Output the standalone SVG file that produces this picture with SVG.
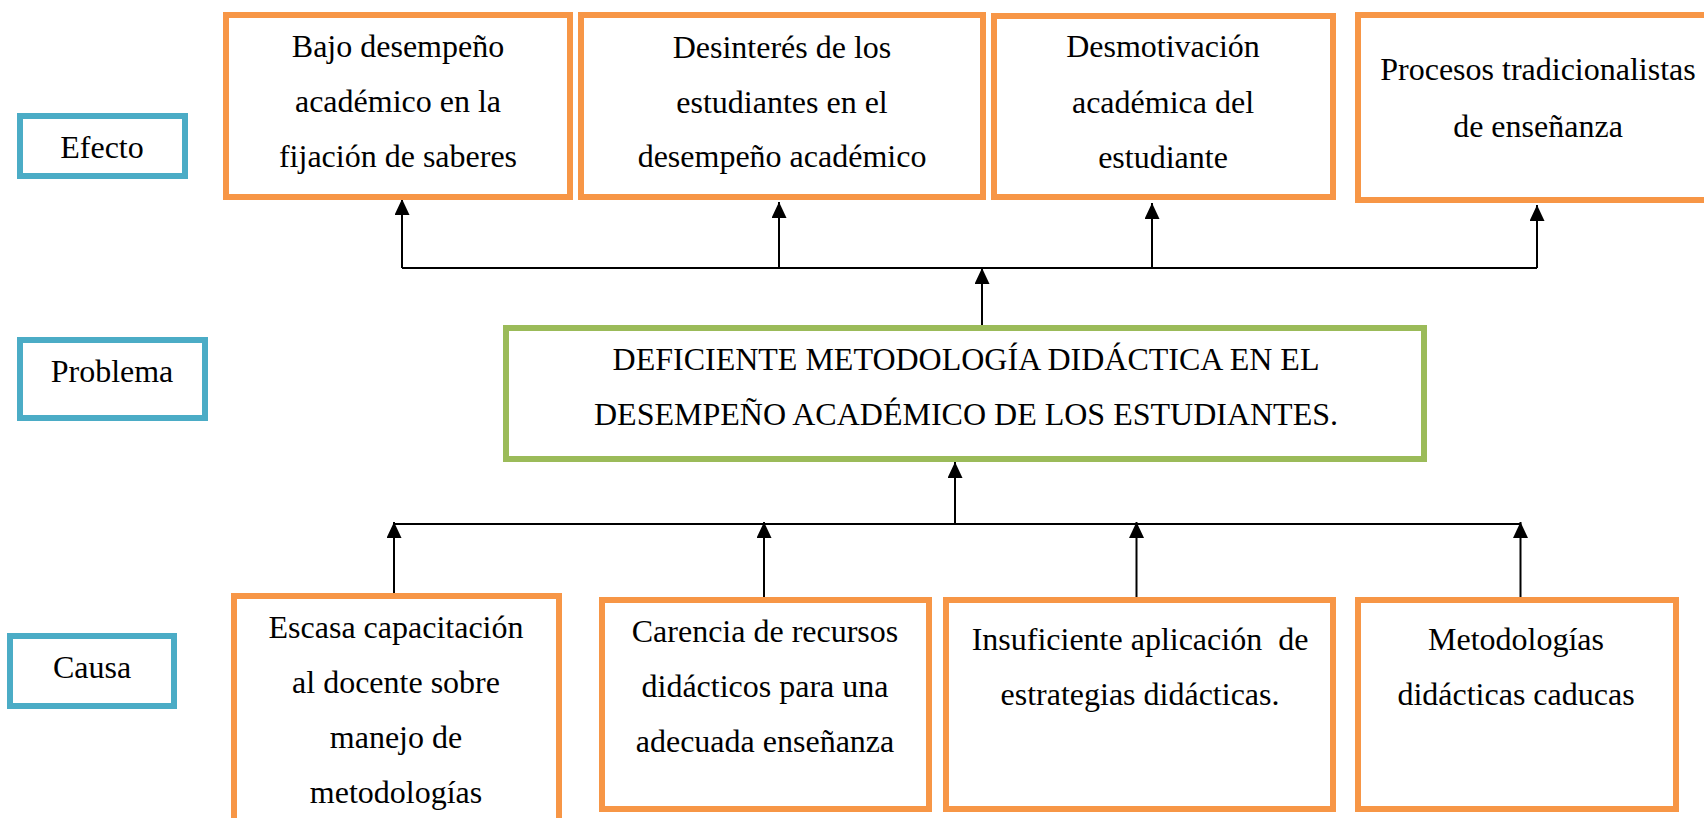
<svg xmlns="http://www.w3.org/2000/svg" width="1704" height="818" viewBox="0 0 1704 818">
<style>
.lab{fill:#fff;stroke:#4BACC6;stroke-width:6}
.eff{fill:#fff;stroke:#F79646;stroke-width:6}
.prob{fill:#fff;stroke:#9BBB59;stroke-width:6}
text{font-family:"Liberation Serif","Times New Roman",serif;font-size:32px;fill:#000;text-anchor:middle}
.con{stroke:#000;stroke-width:2;fill:none}
</style>
<defs>
<marker id="ah" viewBox="0 0 16 15" refX="16" refY="7.5" markerWidth="16" markerHeight="15" markerUnits="userSpaceOnUse" orient="auto">
<path d="M0,0 L16,7.5 L0,15 z" fill="#000"/>
</marker>
</defs>
<rect width="1704" height="818" fill="#fff"/>

<g id="connectors">
<path class="con" d="M402 268 H1537"/>
<path class="con" d="M402 268 V199" marker-end="url(#ah)"/>
<path class="con" d="M779 268 V202" marker-end="url(#ah)"/>
<path class="con" d="M1152 268 V203" marker-end="url(#ah)"/>
<path class="con" d="M1537 268 V205" marker-end="url(#ah)"/>
<path class="con" d="M982 326 V268" marker-end="url(#ah)"/>
<path class="con" d="M393 524 H1521"/>
<path class="con" d="M955 524 V462" marker-end="url(#ah)"/>
<path class="con" d="M394 594 V522" marker-end="url(#ah)"/>
<path class="con" d="M764 598 V522" marker-end="url(#ah)"/>
<path class="con" d="M1136.5 598 V522" marker-end="url(#ah)"/>
<path class="con" d="M1520.5 598 V522" marker-end="url(#ah)"/>
</g>

<g id="label-efecto">
<rect class="lab" x="20" y="116" width="165" height="60"/>
<text x="102" y="158">Efecto</text>
</g>
<g id="label-problema">
<rect class="lab" x="20" y="340" width="185" height="78"/>
<text x="112" y="382">Problema</text>
</g>
<g id="label-causa">
<rect class="lab" x="10" y="636" width="164" height="70"/>
<text x="92" y="678">Causa</text>
</g>

<g id="efecto-1">
<rect class="eff" x="226" y="15" width="344" height="182"/>
<text x="398"><tspan x="398" y="57">Bajo desempeño</tspan><tspan x="398" y="112">académico en la</tspan><tspan x="398" y="167">fijación de saberes</tspan></text>
</g>
<g id="efecto-2">
<rect class="eff" x="581" y="15" width="402" height="182"/>
<text x="782"><tspan x="782" y="58">Desinterés de los</tspan><tspan x="782" y="113">estudiantes en el</tspan><tspan x="782" y="167">desempeño académico</tspan></text>
</g>
<g id="efecto-3">
<rect class="eff" x="994" y="16" width="339" height="181"/>
<text x="1163"><tspan x="1163" y="57">Desmotivación</tspan><tspan x="1163" y="113">académica del</tspan><tspan x="1163" y="168">estudiante</tspan></text>
</g>
<g id="efecto-4">
<rect class="eff" x="1358" y="15" width="361" height="185"/>
<text x="1538"><tspan x="1538" y="80">Procesos tradicionalistas</tspan><tspan x="1538" y="137">de enseñanza</tspan></text>
</g>

<g id="problema">
<rect class="prob" x="506" y="328" width="918" height="131"/>
<text x="966"><tspan x="966" y="370">DEFICIENTE METODOLOGÍA DIDÁCTICA EN EL</tspan><tspan x="966" y="425">DESEMPEÑO ACADÉMICO DE LOS ESTUDIANTES.</tspan></text>
</g>

<g id="causa-1">
<rect class="eff" x="234" y="596" width="325" height="240"/>
<text x="396"><tspan x="396" y="638">Escasa capacitación</tspan><tspan x="396" y="693">al docente sobre</tspan><tspan x="396" y="748">manejo de</tspan><tspan x="396" y="803">metodologías</tspan></text>
</g>
<g id="causa-2">
<rect class="eff" x="602" y="600" width="327" height="209"/>
<text x="765"><tspan x="765" y="642">Carencia de recursos</tspan><tspan x="765" y="697">didácticos para una</tspan><tspan x="765" y="752">adecuada enseñanza</tspan></text>
</g>
<g id="causa-3">
<rect class="eff" x="946" y="600" width="387" height="209"/>
<text x="1140" xml:space="preserve"><tspan x="1140" y="650">Insuficiente aplicación  de</tspan><tspan x="1140" y="705">estrategias didácticas.</tspan></text>
</g>
<g id="causa-4">
<rect class="eff" x="1358" y="600" width="318" height="209"/>
<text x="1516"><tspan x="1516" y="650">Metodologías</tspan><tspan x="1516" y="705">didácticas caducas</tspan></text>
</g>
</svg>
